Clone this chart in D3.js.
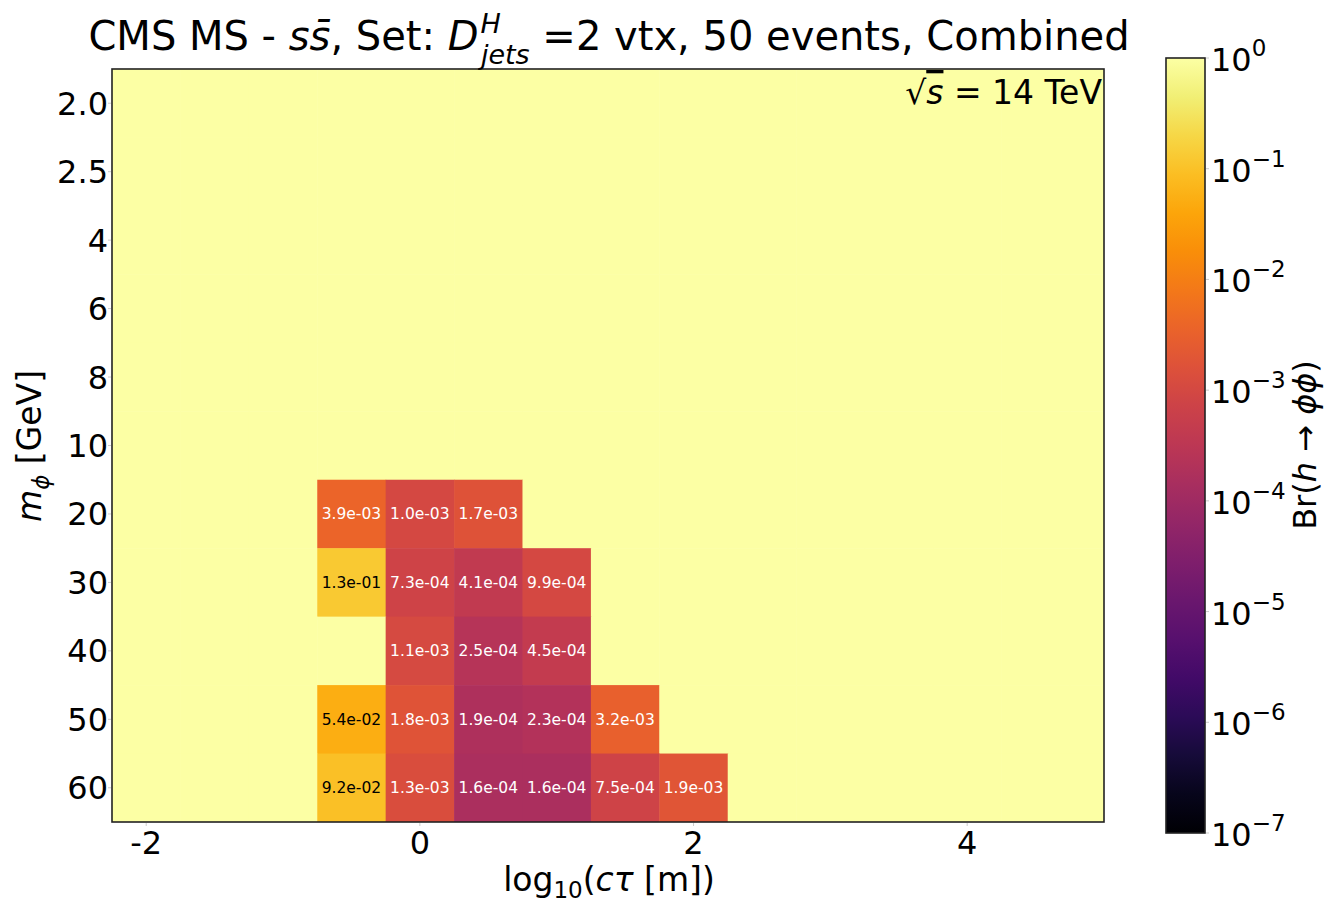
<!DOCTYPE html>
<html>
<head>
<meta charset="utf-8">
<script src="https://cdn.jsdelivr.net/npm/d3@7"></script>
<style>
  body { margin: 0; background: white; }
  svg { font-family: "DejaVu Sans", sans-serif; }
</style>
</head>
<body>
<svg></svg>
<script>
// mass rows (top to bottom) and log10(ctau) column centres
const massLabels = ["2.0", "2.5", "4", "6", "8", "10", "20", "30", "40", "50", "60"];
const ctauCols = [-2, -1.5, -1, -0.5, 0, 0.5, 1, 1.5, 2, 2.5, 3, 3.5, 4, 4.5, 5];

// Br(h -> phi phi) limits, one row per mass, one entry per ctau column
const brValues = [
    [1, 1, 1, 1, 1, 1, 1, 1, 1, 1, 1, 1, 1, 1, 1],
    [1, 1, 1, 1, 1, 1, 1, 1, 1, 1, 1, 1, 1, 1, 1],
    [1, 1, 1, 1, 1, 1, 1, 1, 1, 1, 1, 1, 1, 1, 1],
    [1, 1, 1, 1, 1, 1, 1, 1, 1, 1, 1, 1, 1, 1, 1],
    [1, 1, 1, 1, 1, 1, 1, 1, 1, 1, 1, 1, 1, 1, 1],
    [1, 1, 1, 1, 1, 1, 1, 1, 1, 1, 1, 1, 1, 1, 1],
    [1, 1, 1, 3.9e-3, 1.0e-3, 1.7e-3, 1, 1, 1, 1, 1, 1, 1, 1, 1],
    [1, 1, 1, 1.3e-1, 7.3e-4, 4.1e-4, 9.9e-4, 1, 1, 1, 1, 1, 1, 1, 1],
    [1, 1, 1, 1, 1.1e-3, 2.5e-4, 4.5e-4, 1, 1, 1, 1, 1, 1, 1, 1],
    [1, 1, 1, 5.4e-2, 1.8e-3, 1.9e-4, 2.3e-4, 3.2e-3, 1, 1, 1, 1, 1, 1, 1],
    [1, 1, 1, 9.2e-2, 1.3e-3, 1.6e-4, 1.6e-4, 7.5e-4, 1.9e-3, 1, 1, 1, 1, 1, 1]
];

const xTicks = [-2, 0, 2, 4];
const cbarTicks = [0, -1, -2, -3, -4, -5, -6, -7];

const svg = d3.select("svg");
const svg_width = 1338;
const svg_height = 910;
svg.attr("width", svg_width).attr("height", svg_height);

const plot = { left: 112, right: 1104, top: 69, bottom: 822 };

const x = d3.scaleLinear().domain([-2.25, 5.0]).range([plot.left, plot.right]);
const y = d3.scaleBand().domain(massLabels).range([plot.top, plot.bottom]);
const colorLog = d3.scaleSequential(d3.interpolateInferno).domain([-7, 0]);
const color = (v) => colorLog(Math.log10(v));

svg.append("clipPath").attr("id", "plot-clip")
    .append("rect")
    .attr("x", plot.left).attr("y", plot.top)
    .attr("width", plot.right - plot.left)
    .attr("height", plot.bottom - plot.top);

const cells = [];
brValues.forEach((row, i) => {
    row.forEach((v, j) => {
        cells.push({ mass: massLabels[i], ctau: ctauCols[j], value: v });
    });
});

const cellW = x(0.5) - x(0);
const grid = svg.append("g").attr("clip-path", "url(#plot-clip)");

grid.selectAll("rect")
    .data(cells)
    .join("rect")
    .attr("x", d => x(d.ctau) - cellW / 2)
    .attr("y", d => y(d.mass))
    .attr("width", cellW + 0.5)
    .attr("height", y.bandwidth() + 0.5)
    .attr("fill", d => color(d.value));

grid.selectAll("text")
    .data(cells.filter(d => d.value < 1))
    .join("text")
    .attr("x", d => x(d.ctau))
    .attr("y", d => y(d.mass) + y.bandwidth() / 2)
    .attr("dy", "0.35em")
    .attr("text-anchor", "middle")
    .attr("font-size", 15.5)
    .attr("fill", d => d3.lab(color(d.value)).l > 65 ? "black" : "white")
    .text(d => d.value.toExponential(1).replace(/e([+-])(\d)$/, "e$10$2"));

// frame
svg.append("rect")
    .attr("x", plot.left).attr("y", plot.top)
    .attr("width", plot.right - plot.left)
    .attr("height", plot.bottom - plot.top)
    .attr("fill", "none")
    .attr("stroke", "#222")
    .attr("stroke-width", 1.6);

// x ticks
const xg = svg.append("g");
xg.selectAll("line").data(xTicks).join("line")
    .attr("x1", d => x(d)).attr("x2", d => x(d))
    .attr("y1", plot.bottom + 1).attr("y2", plot.bottom + 4)
    .attr("stroke", "#ccc");
xg.selectAll("text").data(xTicks).join("text")
    .attr("x", d => x(d))
    .attr("y", plot.bottom + 32)
    .attr("text-anchor", "middle")
    .attr("font-size", 32)
    .text(d => d);

// y ticks
const yg = svg.append("g");
yg.selectAll("line").data(massLabels).join("line")
    .attr("x1", plot.left - 4).attr("x2", plot.left - 1)
    .attr("y1", d => y(d) + y.bandwidth() / 2)
    .attr("y2", d => y(d) + y.bandwidth() / 2)
    .attr("stroke", "#ccc");
yg.selectAll("text").data(massLabels).join("text")
    .attr("x", plot.left - 4)
    .attr("y", d => y(d) + y.bandwidth() / 2)
    .attr("dy", "0.36em")
    .attr("text-anchor", "end")
    .attr("font-size", 32)
    .text(d => d);

// axis labels
const xl = svg.append("text")
    .attr("x", 609)
    .attr("y", 891)
    .attr("text-anchor", "middle")
    .attr("font-size", 33);
xl.append("tspan").text("log");
xl.append("tspan").attr("font-size", 23).attr("dy", 7).text("10");
xl.append("tspan").attr("dy", -7).text("(");
xl.append("tspan").attr("font-style", "italic").text("cτ");
xl.append("tspan").text(" [m])");

const yl = svg.append("text")
    .attr("transform", "translate(41, 446) rotate(-90)")
    .attr("text-anchor", "middle")
    .attr("font-size", 33);
yl.append("tspan").attr("font-style", "italic").text("m");
yl.append("tspan").attr("font-style", "italic").attr("font-size", 23).attr("dy", 8).text("ϕ");
yl.append("tspan").attr("dy", -8).text(" [GeV]");

// title
const title = svg.append("text")
    .attr("x", 609)
    .attr("y", 50)
    .attr("text-anchor", "middle")
    .attr("font-size", 40);
title.append("tspan").text("CMS MS - ");
title.append("tspan").attr("font-style", "italic").text("s");
title.append("tspan").attr("font-style", "italic").text("s\u0304");
title.append("tspan").text(", Set: ");
title.append("tspan").attr("font-style", "italic").text("D");
title.append("tspan").attr("font-style", "italic").attr("font-size", 27).attr("dy", -17).attr("dx", 2).text("H");
title.append("tspan").attr("font-style", "italic").attr("font-size", 27).attr("dy", 31).attr("dx", -20).text("jets");
title.append("tspan").attr("dy", -14).text(" =2 vtx, 50 events, Combined");

// energy label
const en = svg.append("text")
    .attr("x", plot.right - 2)
    .attr("y", 104)
    .attr("text-anchor", "end")
    .attr("font-size", 33);
en.append("tspan").text("√");
en.append("tspan").attr("font-style", "italic").attr("text-decoration", "overline").text("s");
en.append("tspan").text(" = 14 TeV");

// colorbar
const cb = { left: 1166, right: 1205, top: 58, bottom: 833 };
const cbY = d3.scaleLinear().domain([-7, 0]).range([cb.bottom, cb.top]);

const grad = svg.append("defs").append("linearGradient")
    .attr("id", "cbar-grad")
    .attr("x1", "0").attr("y1", "1").attr("x2", "0").attr("y2", "0");
d3.range(0, 1.0001, 0.05).forEach(t => {
    grad.append("stop")
        .attr("offset", t)
        .attr("stop-color", d3.interpolateInferno(t));
});

svg.append("rect")
    .attr("x", cb.left).attr("y", cb.top)
    .attr("width", cb.right - cb.left)
    .attr("height", cb.bottom - cb.top)
    .attr("fill", "url(#cbar-grad)")
    .attr("stroke", "#222")
    .attr("stroke-width", 1.6);

const cg = svg.append("g");
cg.selectAll("line").data(cbarTicks).join("line")
    .attr("x1", cb.right + 1).attr("x2", cb.right + 4)
    .attr("y1", d => cbY(d)).attr("y2", d => cbY(d))
    .attr("stroke", "#ccc");
const ct = cg.selectAll("text").data(cbarTicks).join("text")
    .attr("x", cb.right + 6)
    .attr("y", d => cbY(d) + 13)
    .attr("font-size", 32);
ct.append("tspan").text("10");
ct.append("tspan").attr("font-size", 23).attr("dy", -15).text(d => d === 0 ? "0" : "\u2212" + (-d));

const cl = svg.append("text")
    .attr("transform", "translate(1316, 445) rotate(-90)")
    .attr("text-anchor", "middle")
    .attr("font-size", 32);
cl.append("tspan").text("Br(");
cl.append("tspan").attr("font-style", "italic").text("h");
cl.append("tspan").text(" → ");
cl.append("tspan").attr("font-style", "italic").text("ϕϕ");
cl.append("tspan").text(")");
</script>
</body>
</html>
